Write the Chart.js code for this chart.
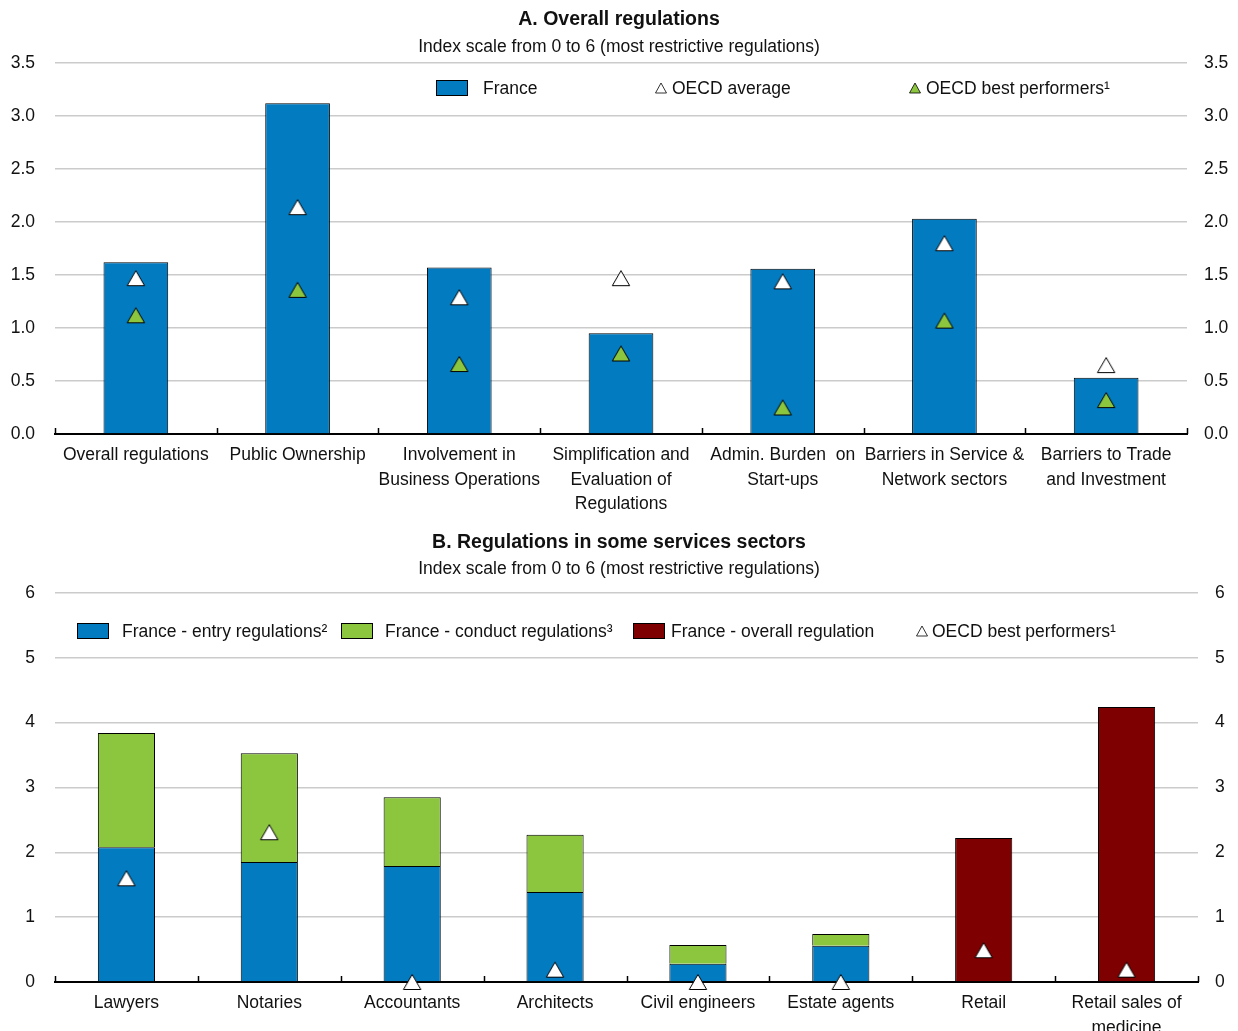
<!DOCTYPE html>
<html>
<head>
<meta charset="utf-8">
<script src="https://cdn.jsdelivr.net/npm/chart.js@4.4.1/dist/chart.umd.min.js"></script>
<style>
  html, body { margin: 0; padding: 0; background: #ffffff; }
  .wrap { position: relative; width: 1238px; }
  canvas { display: block; }
</style>
</head>
<body>
<div class="wrap">
  <canvas id="chartA" width="1238" height="520"></canvas>
  <canvas id="chartB" width="1238" height="511"></canvas>
</div>
<script>
// ---------- Panel A data ----------
const categoriesA = [
  ["Overall regulations"],
  ["Public Ownership"],
  ["Involvement in", "Business Operations"],
  ["Simplification and", "Evaluation of", "Regulations"],
  ["Admin. Burden  on", "Start-ups"],
  ["Barriers in Service &", "Network sectors"],
  ["Barriers to Trade", "and Investment"]
];
const franceA = [1.62, 3.12, 1.57, 0.95, 1.56, 2.03, 0.53];
const oecdAverageA = [1.47, 2.14, 1.29, 1.47, 1.44, 1.80, 0.65];
const oecdBestA = [1.12, 1.36, 0.66, 0.76, 0.25, 1.07, 0.32];
const ticksA = [0.0, 0.5, 1.0, 1.5, 2.0, 2.5, 3.0, 3.5];

// ---------- Panel B data ----------
const categoriesB = [
  ["Lawyers"], ["Notaries"], ["Accountants"], ["Architects"],
  ["Civil engineers"], ["Estate agents"], ["Retail"], ["Retail sales of", "medicine"]
];
const entryB   = [2.08, 1.85, 1.79, 1.39, 0.28, 0.56, null, null];
const conductB = [1.76, 1.68, 1.06, 0.88, 0.29, 0.18, null, null];
const overallB = [null, null, null, null, null, null, 2.22, 4.24];
const oecdBestB = [1.60, 2.31, 0.0, 0.19, 0.0, 0.0, 0.49, 0.19];
const ticksB = [0, 1, 2, 3, 4, 5, 6];

// ---------- styles ----------
const FONT = "'Liberation Sans', Arial, sans-serif";
const FS = 17.5;
const BLUE = '#037BC1';
const GREEN = '#8CC63F';
const RED = '#7F0000';
const GRID = '#CBCBCB';
const TEXT = '#111111';

Chart.defaults.font.family = FONT;
Chart.defaults.color = TEXT;

// triangle marker image, centred on its bounding box
function makeTri(fill) {
  const c = document.createElement('canvas');
  c.width = 20; c.height = 18;
  const g = c.getContext('2d');
  g.beginPath();
  g.moveTo(10, 1.5);
  g.lineTo(18.7, 16.5);
  g.lineTo(1.3, 16.5);
  g.closePath();
  g.fillStyle = fill;
  g.fill();
  g.strokeStyle = '#000';
  g.lineWidth = 1;
  g.stroke();
  return c;
}

// upward tick marks at category boundaries
const upTicks = {
  id: 'upTicks',
  afterDatasetsDraw(chart) {
    const xs = chart.scales.x;
    const ctx = chart.ctx;
    const n = chart.data.labels.length;
    const b = chart.chartArea.bottom;
    ctx.save();
    ctx.strokeStyle = '#000';
    ctx.lineWidth = 1.5;
    for (let i = 0; i <= n; i++) {
      const x = Math.round(xs.getPixelForValue(i - 0.5)) + 0.5;
      ctx.beginPath();
      ctx.moveTo(x, b);
      ctx.lineTo(x, b - 6);
      ctx.stroke();
    }
    ctx.restore();
  }
};

// custom legend placed inside the chart area
const inLegend = {
  id: 'inLegend',
  afterDraw(chart, args, opts) {
    const ctx = chart.ctx;
    ctx.save();
    ctx.font = FS + 'px ' + FONT;
    ctx.textBaseline = 'middle';
    ctx.fillStyle = TEXT;
    const y = opts.y;
    opts.items.forEach(it => {
      const ds = chart.data.datasets[it.ds];
      if (it.kind === 'box') {
        ctx.fillStyle = ds.backgroundColor;
        ctx.fillRect(it.x, y - 7.5, 32, 15);
        ctx.strokeStyle = '#000';
        ctx.lineWidth = 1;
        ctx.strokeRect(it.x + 0.5, y - 7.5, 31, 15);
      } else {
        ctx.beginPath();
        ctx.moveTo(it.x, y - 5);
        ctx.lineTo(it.x + 5.5, y + 5);
        ctx.lineTo(it.x - 5.5, y + 5);
        ctx.closePath();
        ctx.fillStyle = ds.pointBackgroundColor;
        ctx.fill();
        ctx.strokeStyle = '#000';
        ctx.lineWidth = 0.8;
        ctx.stroke();
      }
      ctx.fillStyle = TEXT;
      ctx.fillText(ds.label, it.tx, y + 1);
    });
    ctx.restore();
  }
};

function yScale(pos, min, max, step, width, pad) {
  return {
    position: pos,
    min: min, max: max,
    afterFit: s => { s.width = width; },
    ticks: {
      stepSize: step,
      padding: pad,
      font: { size: FS },
      color: TEXT,
      callback: v => step < 1 ? Number(v).toFixed(1) : String(v)
    },
    grid: { display: pos === 'left', color: GRID, lineWidth: 1.5, drawTicks: false },
    border: { display: false }
  };
}

function triDataset(label, data, fill, stack) {
  return {
    type: 'line',
    label: label,
    data: data,
    showLine: false,
    pointStyle: makeTri(fill),
    pointRadius: 10,
    pointHoverRadius: 10,
    pointBackgroundColor: fill,
    pointBorderColor: '#000',
    pointBorderWidth: 1,
    clip: false,
    order: 0,
    stack: stack
  };
}

function xScale(height, stacked) {
  return {
    stacked: stacked,
    afterFit: s => { s.height = height; },
    ticks: { font: { size: FS, lineHeight: 1.4 }, color: TEXT, padding: 9, maxRotation: 0, autoSkip: false },
    grid: { display: true, drawOnChartArea: false, drawTicks: false },
    border: { display: true, color: '#000', width: 2 }
  };
}

// ---------- Chart A ----------
new Chart(document.getElementById('chartA'), {
  type: 'bar',
  data: {
    labels: categoriesA,
    datasets: [
      {
        label: 'France',
        data: franceA,
        backgroundColor: BLUE,
        borderColor: '#000',
        borderWidth: 1,
        categoryPercentage: 1.0,
        barPercentage: 0.4,
        order: 1
      },
      triDataset('OECD average', oecdAverageA, '#FFFFFF', 'a'),
      triDataset('OECD best performers¹', oecdBestA, GREEN, 'b')
    ]
  },
  options: {
    responsive: false,
    animation: false,
    devicePixelRatio: 1,
    events: [],
    layout: { padding: { top: 0, bottom: 0, left: 0, right: 0 } },
    plugins: {
      legend: { display: false },
      tooltip: { enabled: false },
      title: {
        display: true,
        text: 'A. Overall regulations',
        font: { size: 19.5, weight: 'bold', lineHeight: 1.2 },
        color: TEXT,
        padding: { top: 8, bottom: 5 }
      },
      subtitle: {
        display: true,
        text: 'Index scale from 0 to 6 (most restrictive regulations)',
        font: { size: FS, lineHeight: 1.2 },
        color: TEXT,
        padding: { top: 0, bottom: 5.6 }
      },
      inLegend: {
        y: 88,
        items: [
          { ds: 0, kind: 'box', x: 436, tx: 483 },
          { ds: 1, kind: 'tri', x: 661, tx: 672 },
          { ds: 2, kind: 'tri', x: 915, tx: 926 }
        ]
      }
    },
    scales: {
      x: xScale(86, false),
      y: yScale('left', 0, 3.5, 0.5, 55, 20),
      y2: yScale('right', 0, 3.5, 0.5, 51, 17)
    }
  },
  plugins: [upTicks, inLegend]
});

// ---------- Chart B ----------
new Chart(document.getElementById('chartB'), {
  type: 'bar',
  data: {
    labels: categoriesB,
    datasets: [
      {
        label: 'France - entry regulations²',
        data: entryB,
        backgroundColor: BLUE,
        borderColor: '#000',
        borderWidth: 1,
        categoryPercentage: 1.0,
        barPercentage: 0.4,
        stack: 'bars',
        order: 1
      },
      {
        label: 'France - conduct regulations³',
        data: conductB,
        backgroundColor: GREEN,
        borderColor: '#000',
        borderWidth: 1,
        categoryPercentage: 1.0,
        barPercentage: 0.4,
        stack: 'bars',
        order: 1
      },
      {
        label: 'France - overall regulation',
        data: overallB,
        backgroundColor: RED,
        borderColor: '#000',
        borderWidth: 1,
        categoryPercentage: 1.0,
        barPercentage: 0.4,
        stack: 'bars',
        order: 1
      },
      triDataset('OECD best performers¹', oecdBestB, '#FFFFFF', 'tri')
    ]
  },
  options: {
    responsive: false,
    animation: false,
    devicePixelRatio: 1,
    events: [],
    layout: { padding: { top: 0, bottom: 0, left: 0, right: 0 } },
    plugins: {
      legend: { display: false },
      tooltip: { enabled: false },
      title: {
        display: true,
        text: 'B. Regulations in some services sectors',
        font: { size: 19.5, weight: 'bold', lineHeight: 1.2 },
        color: TEXT,
        padding: { top: 11, bottom: 4 }
      },
      subtitle: {
        display: true,
        text: 'Index scale from 0 to 6 (most restrictive regulations)',
        font: { size: FS, lineHeight: 1.2 },
        color: TEXT,
        padding: { top: 0, bottom: 13.6 }
      },
      inLegend: {
        y: 111,
        items: [
          { ds: 0, kind: 'box', x: 77, tx: 122 },
          { ds: 1, kind: 'box', x: 341, tx: 385 },
          { ds: 2, kind: 'box', x: 633, tx: 671 },
          { ds: 3, kind: 'tri', x: 922, tx: 932 }
        ]
      }
    },
    scales: {
      x: xScale(49, true),
      y: Object.assign(yScale('left', 0, 6, 1, 55, 20), { stacked: true }),
      y2: yScale('right', 0, 6, 1, 40, 17)
    }
  },
  plugins: [upTicks, inLegend]
});
</script>
</body>
</html>
